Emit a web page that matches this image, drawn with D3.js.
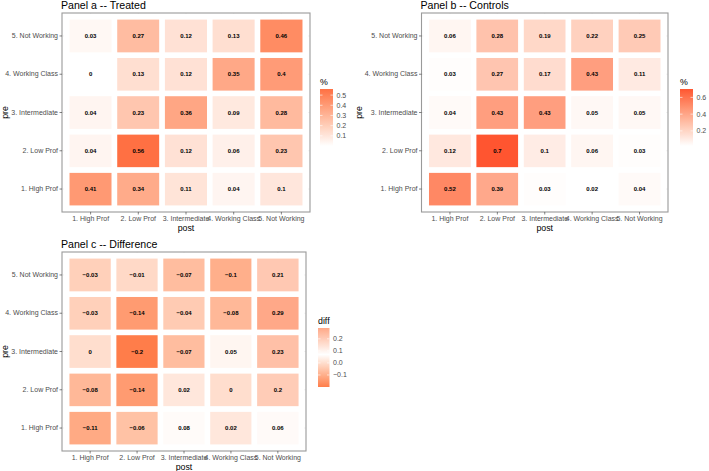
<!DOCTYPE html>
<html>
<head>
<meta charset="utf-8">
<script src="https://cdn.jsdelivr.net/npm/d3@7"></script>
<style>
  body { margin: 0; background: #fff; }
  svg { font-family: "Liberation Sans", Arial, sans-serif; }
</style>
</head>
<body>
<svg id="chart" width="709" height="471"></svg>
<script>
// classes on both axes, pre = rows, post = columns
let categories = ["1. High Prof", "2. Low Prof", "3. Intermediate", "4. Working Class", "5. Not Working"];

// rows are pre (1..5), columns are post (1..5)
let treated = [
  [0.41, 0.34, 0.11, 0.04, 0.1],
  [0.04, 0.56, 0.12, 0.06, 0.23],
  [0.04, 0.23, 0.36, 0.09, 0.28],
  [0, 0.13, 0.12, 0.35, 0.4],
  [0.03, 0.27, 0.12, 0.13, 0.46]
];
let controls = [
  [0.52, 0.39, 0.03, 0.02, 0.04],
  [0.12, 0.7, 0.1, 0.06, 0.03],
  [0.04, 0.43, 0.43, 0.05, 0.05],
  [0.03, 0.27, 0.17, 0.43, 0.11],
  [0.06, 0.28, 0.19, 0.22, 0.25]
];
let difference = [
  [-0.11, -0.06, 0.08, 0.02, 0.06],
  [-0.08, -0.14, 0.02, 0, 0.2],
  [0, -0.2, -0.07, 0.05, 0.23],
  [-0.03, -0.14, -0.04, -0.08, 0.29],
  [-0.03, -0.01, -0.07, -0.1, 0.21]
];

let treatedTicks = [0.1, 0.2, 0.3, 0.4, 0.5];
let controlsTicks = [0.2, 0.4, 0.6];
let diffTicks = [-0.1, 0.0, 0.1, 0.2];

let svg = d3.select("#chart");

let fmt = (v) => (v < 0 ? "\u2212" + Math.abs(v) : String(v));

let toCells = (matrix) => {
  let cells = [];
  matrix.forEach((row, i) => {
    row.forEach((v, j) => {
      cells.push({ pre: categories[i], post: categories[j], value: v });
    });
  });
  return cells;
};

let drawPanel = (p) => {
  let g = svg.append("g");
  let x = d3.scaleBand().domain(categories).range([p.x0, p.x1]).paddingInner(0).paddingOuter(0.1);
  let y = d3.scaleBand().domain(categories).range([p.y1, p.y0]).paddingInner(0).paddingOuter(0.1);

  // grid lines
  g.selectAll("line.gx")
    .data(categories)
    .enter()
    .append("line")
    .attr("x1", (d) => x(d) + x.bandwidth() / 2)
    .attr("x2", (d) => x(d) + x.bandwidth() / 2)
    .attr("y1", p.y0)
    .attr("y2", p.y1)
    .attr("stroke", "#EBEBEB")
    .attr("stroke-width", 0.6);
  g.selectAll("line.gy")
    .data(categories)
    .enter()
    .append("line")
    .attr("y1", (d) => y(d) + y.bandwidth() / 2)
    .attr("y2", (d) => y(d) + y.bandwidth() / 2)
    .attr("x1", p.x0)
    .attr("x2", p.x1)
    .attr("stroke", "#EBEBEB")
    .attr("stroke-width", 0.6);

  let cells = toCells(p.data);

  g.selectAll("rect.tile")
    .data(cells)
    .enter()
    .append("rect")
    .attr("x", (d) => x(d.post))
    .attr("y", (d) => y(d.pre))
    .attr("width", x.bandwidth())
    .attr("height", y.bandwidth())
    .attr("fill", (d) => p.color(d.value))
    .attr("stroke", "white")
    .attr("stroke-width", 5.5);

  g.selectAll("text.lab")
    .data(cells)
    .enter()
    .append("text")
    .attr("x", (d) => x(d.post) + x.bandwidth() / 2)
    .attr("y", (d) => y(d.pre) + y.bandwidth() / 2)
    .attr("dy", "0.35em")
    .attr("text-anchor", "middle")
    .attr("font-size", 6)
    .attr("font-weight", "bold")
    .attr("fill", "#000")
    .text((d) => fmt(d.value));

  // panel border
  g.append("rect")
    .attr("x", p.x0)
    .attr("y", p.y0)
    .attr("width", p.x1 - p.x0)
    .attr("height", p.y1 - p.y0)
    .attr("fill", "none")
    .attr("stroke", "#9a9a9a")
    .attr("stroke-width", 1.1);

  // axes
  let xAxis = g.append("g")
    .attr("transform", "translate(0," + p.y1 + ")")
    .call(d3.axisBottom(x).tickSize(2.5).tickPadding(1.5));
  let yAxis = g.append("g")
    .attr("transform", "translate(" + p.x0 + ",0)")
    .call(d3.axisLeft(y).tickSize(2.5).tickPadding(1.5));
  [xAxis, yAxis].forEach((a) => {
    a.select(".domain").remove();
    a.selectAll(".tick line").attr("stroke", "#333").attr("stroke-width", 0.6);
    a.selectAll(".tick text")
      .attr("fill", "#4D4D4D")
      .attr("font-size", 7)
      .attr("font-family", "Liberation Sans, Arial, sans-serif");
  });

  // axis titles
  g.append("text")
    .attr("x", (p.x0 + p.x1) / 2)
    .attr("y", p.y1 + 18.5)
    .attr("text-anchor", "middle")
    .attr("font-size", 8.8)
    .text("post");
  g.append("text")
    .attr("transform", "translate(" + p.preX + "," + (p.y0 + p.y1) / 2 + ") rotate(-90)")
    .attr("text-anchor", "middle")
    .attr("font-size", 8.8)
    .text("pre");

  // panel title
  g.append("text")
    .attr("x", p.x0 - 1)
    .attr("y", p.y0 - 4.5)
    .attr("font-size", 10.6)
    .text(p.title);

  // colour bar legend
  let lg = svg.append("g");
  let gradId = "grad-" + p.id;
  let grad = svg.append("defs").append("linearGradient")
    .attr("id", gradId)
    .attr("x1", 0).attr("y1", 1).attr("x2", 0).attr("y2", 0);
  let dom = p.color.domain();
  let lo = dom[0], hi = dom[dom.length - 1];
  d3.range(0, 21).forEach((k) => {
    let v = lo + (hi - lo) * k / 20;
    grad.append("stop").attr("offset", (k / 20) * 100 + "%").attr("stop-color", p.color(v));
  });
  let ly = d3.scaleLinear().domain([lo, hi]).range([p.legY + p.legH, p.legY]);
  lg.append("text")
    .attr("x", p.legX)
    .attr("y", p.legY - 4)
    .attr("font-size", 8.8)
    .text(p.legTitle);
  lg.append("rect")
    .attr("x", p.legX)
    .attr("y", p.legY)
    .attr("width", p.legW)
    .attr("height", p.legH)
    .attr("fill", "url(#" + gradId + ")");
  lg.selectAll("line.lt")
    .data(p.ticks)
    .enter()
    .append("g")
    .each(function (d) {
      let t = d3.select(this);
      t.append("line")
        .attr("x1", p.legX).attr("x2", p.legX + 2.5)
        .attr("y1", ly(d)).attr("y2", ly(d))
        .attr("stroke", "white").attr("stroke-width", 0.6);
      t.append("line")
        .attr("x1", p.legX + p.legW - 2.5).attr("x2", p.legX + p.legW)
        .attr("y1", ly(d)).attr("y2", ly(d))
        .attr("stroke", "white").attr("stroke-width", 0.6);
    });
  lg.selectAll("text.tl")
    .data(p.ticks)
    .enter()
    .append("text")
    .attr("x", p.legX + p.legW + 3.5)
    .attr("y", (d) => ly(d))
    .attr("dy", "0.35em")
    .attr("font-size", 7)
    .attr("fill", "#4D4D4D")
    .text((d) => (d < 0 ? "\u2212" : "") + d3.format(".1f")(Math.abs(d)));
};

let treatedColor = d3.scaleLinear()
  .domain([0, 0.56])
  .range(["#FFFFFF", "#FF7043"])
  .interpolate(d3.interpolateLab);
let controlsColor = d3.scaleLinear()
  .domain([0.02, 0.7])
  .range(["#FFFFFF", "#FF5530"])
  .interpolate(d3.interpolateLab);
let diffColor = d3.scaleLinear()
  .domain([-0.2, 0.07, 0.29])
  .range(["#FF7D4A", "#FFFFFF", "#FFA888"])
  .interpolate(d3.interpolateLab);

drawPanel({
  id: "a", title: "Panel a -- Treated", data: treated, color: treatedColor,
  x0: 62, x1: 310, y0: 13, y1: 212, preX: 7.5,
  legTitle: "%", ticks: treatedTicks, legX: 320, legY: 89, legW: 13, legH: 57
});
drawPanel({
  id: "b", title: "Panel b -- Controls", data: controls, color: controlsColor,
  x0: 421.5, x1: 668, y0: 13, y1: 212, preX: 362,
  legTitle: "%", ticks: controlsTicks, legX: 680, legY: 89, legW: 13, legH: 57
});
drawPanel({
  id: "c", title: "Panel c -- Difference", data: difference, color: diffColor,
  x0: 62, x1: 306, y0: 252, y1: 451, preX: 7.5,
  legTitle: "diff", ticks: diffTicks, legX: 318, legY: 328, legW: 11.5, legH: 59
});
</script>
</body>
</html>
